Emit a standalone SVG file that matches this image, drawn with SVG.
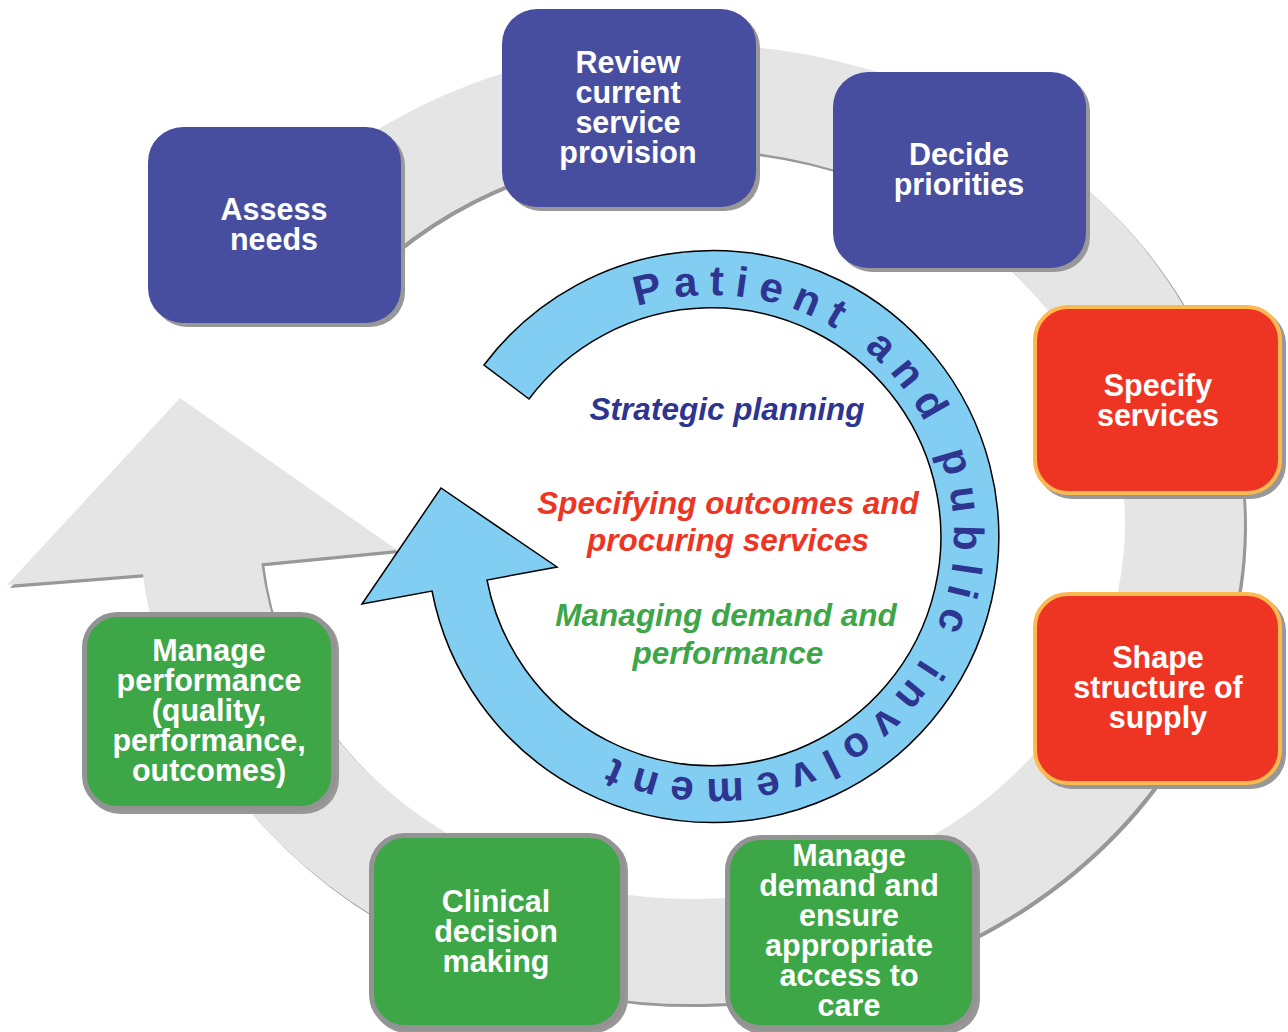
<svg xmlns="http://www.w3.org/2000/svg" xmlns:xlink="http://www.w3.org/1999/xlink" width="1288" height="1032" viewBox="0 0 1288 1032">
<style>
.lbl{font-family:"Liberation Sans",Arial,sans-serif;font-weight:bold;font-size:30.5px;fill:#fff;text-anchor:middle}
.mid{font-family:"Liberation Sans",Arial,sans-serif;font-weight:bold;font-style:italic;font-size:31.5px;text-anchor:middle}
.shd{fill:#989898}
.blue{fill:#484e9f}
.red{fill:#ee3524;stroke:#fdb851;stroke-width:4}
.green{fill:#3da647;stroke:#939393;stroke-width:5}
.ring{fill:#e5e5e5}
.inner{fill:#82cdf2;stroke:#000;stroke-width:1.5;stroke-linejoin:miter}
.ppi{font-family:"Liberation Sans",Arial,sans-serif;font-weight:bold;font-size:42px;fill:#2e3590;letter-spacing:11px}
</style>
<defs>
<path id="ringPath" d="M 269.2 215.5 A 552 480 0 1 1 143 574.2 L 7 585 L 180 398 L 397 550 L 261.4 563.2 A 433 375 0 1 0 360.3 283 Z"/>
<path id="ppiPath" d="M 637.2 306.8 A 242 242 0 1 1 556.4 722.4"/>
</defs>
<rect width="1288" height="1032" fill="#fff"/>
<g id="connectors">
<use xlink:href="#ringPath" class="shd" transform="translate(3,3)"/>
<use xlink:href="#ringPath" class="ring"/>
<path id="inner-arrow" class="inner" d="M 484 365 A 286 286 0 1 1 432 591 L 362 604 L 441 488 L 557 567 L 487 580 A 229 229 0 1 0 529 399 Z"/>
<text class="ppi"><textPath xlink:href="#ppiPath">Patient and public involvement</textPath></text>
</g>
<g id="center-text">
<text class="mid" x="727" y="420" fill="#2e3590">Strategic planning</text>
<text class="mid" x="728" y="514" fill="#ee3524">Specifying outcomes and</text>
<text class="mid" x="728" y="551" fill="#ee3524">procuring services</text>
<text class="mid" x="726" y="626" fill="#3da647">Managing demand and</text>
<text class="mid" x="728" y="664" fill="#3da647">performance</text>
</g>
<g id="node-assess">
<rect class="shd" x="152" y="131" width="253" height="196" rx="35"/>
<rect class="blue" x="148" y="127" width="253" height="196" rx="35"/>
<text class="lbl" x="274" y="220">Assess</text>
<text class="lbl" x="274" y="250">needs</text>
</g>
<g id="node-review">
<rect class="shd" x="506" y="13" width="254" height="198" rx="35"/>
<rect class="blue" x="502" y="9" width="254" height="198" rx="35"/>
<text class="lbl" x="628" y="73">Review</text>
<text class="lbl" x="628" y="103">current</text>
<text class="lbl" x="628" y="133">service</text>
<text class="lbl" x="628" y="163">provision</text>
</g>
<g id="node-decide">
<rect class="shd" x="837" y="76" width="253" height="196" rx="35"/>
<rect class="blue" x="833" y="72" width="253" height="196" rx="35"/>
<text class="lbl" x="959" y="165">Decide</text>
<text class="lbl" x="959" y="195">priorities</text>
</g>
<g id="node-specify">
<rect class="shd" x="1037" y="309" width="249" height="190" rx="35"/>
<rect class="red" x="1035" y="307" width="245" height="186" rx="33"/>
<text class="lbl" x="1158" y="396">Specify</text>
<text class="lbl" x="1158" y="426">services</text>
</g>
<g id="node-shape">
<rect class="shd" x="1037" y="596" width="249" height="193" rx="35"/>
<rect class="red" x="1035" y="594" width="245" height="189" rx="33"/>
<text class="lbl" x="1158" y="668">Shape</text>
<text class="lbl" x="1158" y="698">structure of</text>
<text class="lbl" x="1158" y="728">supply</text>
</g>
<g id="node-manage-demand">
<rect class="shd" x="728" y="838" width="252" height="196" rx="35"/>
<rect class="green" x="727.5" y="837.5" width="247" height="190" rx="33"/>
<text class="lbl" x="849" y="866">Manage</text>
<text class="lbl" x="849" y="896">demand and</text>
<text class="lbl" x="849" y="926">ensure</text>
<text class="lbl" x="849" y="956">appropriate</text>
<text class="lbl" x="849" y="986">access to</text>
<text class="lbl" x="849" y="1016">care</text>
</g>
<g id="node-clinical">
<rect class="shd" x="372" y="836" width="256" height="197" rx="35"/>
<rect class="green" x="371.5" y="835.5" width="251" height="192" rx="33"/>
<text class="lbl" x="496" y="912">Clinical</text>
<text class="lbl" x="496" y="942">decision</text>
<text class="lbl" x="496" y="972">making</text>
</g>
<g id="node-manage-performance">
<rect class="shd" x="85" y="615" width="254" height="199" rx="35"/>
<rect class="green" x="84.5" y="614.5" width="249" height="194" rx="33"/>
<text class="lbl" x="209" y="661">Manage</text>
<text class="lbl" x="209" y="691">performance</text>
<text class="lbl" x="209" y="721">(quality,</text>
<text class="lbl" x="209" y="751">performance,</text>
<text class="lbl" x="209" y="781">outcomes)</text>
</g>
</svg>
